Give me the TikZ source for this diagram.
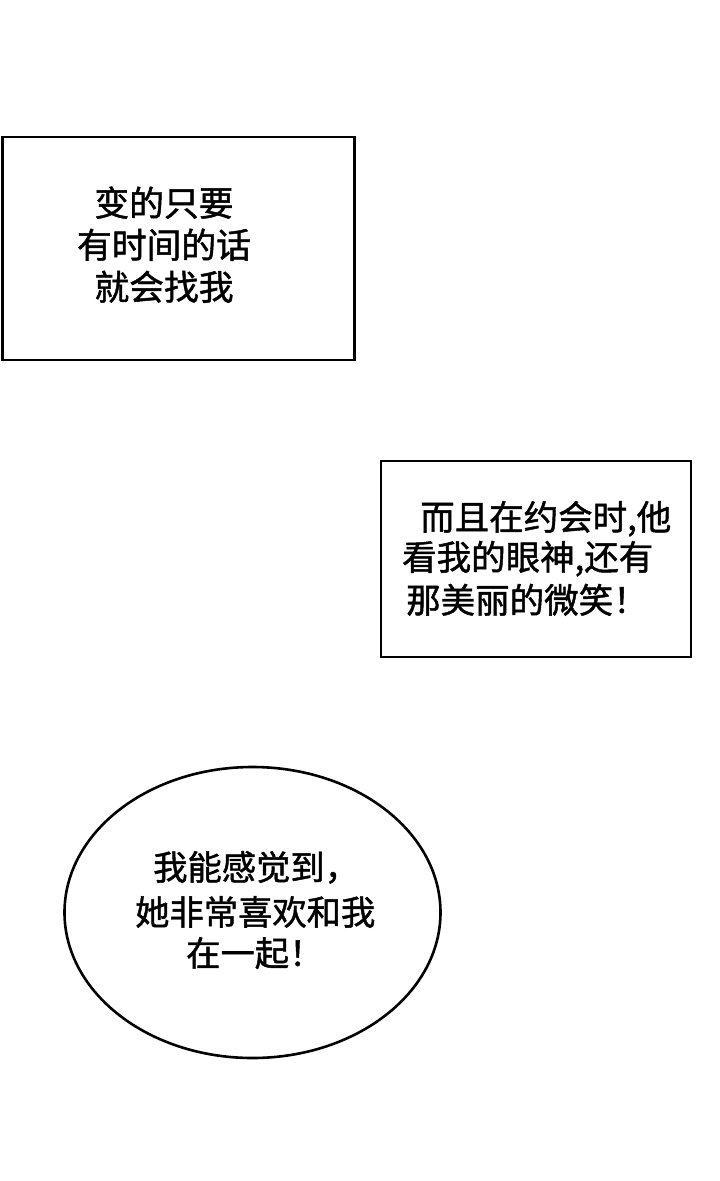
\documentclass[tikz,border=0pt]{standalone}
\usepackage{fontspec}
\newfontfamily\cjk{Noto Sans CJK SC}[FakeBold=1.3]
\usetikzlibrary{shapes.geometric}
\begin{document}
\begin{tikzpicture}[x=1pt,y=-1pt,
  frame/.style={draw=black,line width=2.6pt},
  txtA/.style={inner sep=0pt,anchor=base,font=\cjk\fontsize{34.8pt}{40pt}\selectfont},
  txtB/.style={inner sep=0pt,anchor=base west,font=\cjk\fontsize{34.5pt}{40pt}\selectfont},
  txtC/.style={inner sep=0pt,anchor=base west,font=\cjk\fontsize{34.3pt}{40pt}\selectfont}]
\useasboundingbox[fill=white] (0,0) rectangle (720,1181);
% box 1
\node[frame,minimum width=352pt,minimum height=223pt,inner sep=0pt] (b1) at (178.5,248.5) {};
\node[txtA] (t11) at (164,216) {变的只要};
\node[txtA] (t12) at (164,258) {有时间的话};
\node[txtA] (t13) at (164,300) {就会找我};
% box 2
\node[frame,minimum width=310pt,minimum height=196pt,inner sep=0pt] (b2) at (536,559) {};
\node[txtB] (t21) at (420,530) {而且在约会时,他};
\node[txtB] (t22) at (402,570) {看我的眼神,还有};
\node[txtB] (t23) at (406,613) {那美丽的微笑！};
% ellipse
\node[frame,ellipse,minimum width=376pt,minimum height=291pt,inner sep=0pt] (e1) at (252.5,912.5) {};
\node[txtC] (t31) at (153,880) {我能感觉到，};
\node[txtC] (t32) at (135,925) {她非常喜欢和我};
\node[txtC] (t33) at (186,966) {在一起！};
\end{tikzpicture}
\end{document}
